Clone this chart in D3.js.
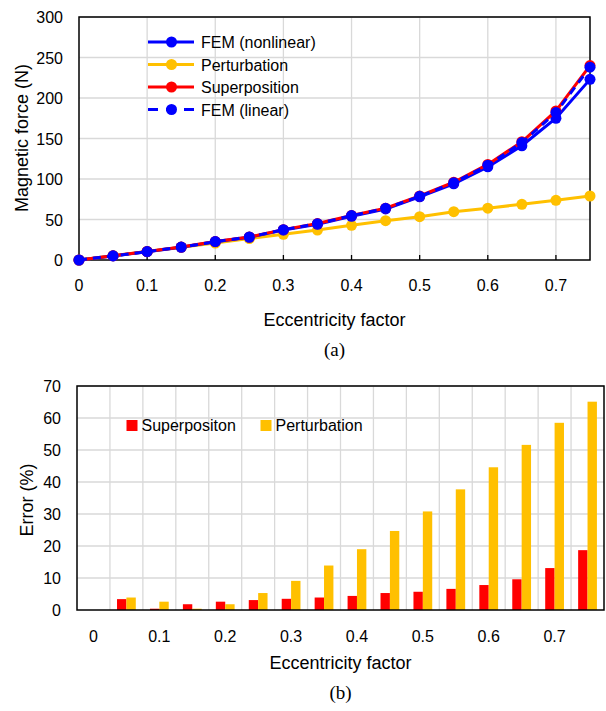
<!DOCTYPE html>
<html><head><meta charset="utf-8">
<script src="https://cdn.jsdelivr.net/npm/d3@7"></script>
<style>body{margin:0;background:#fff}text{font-family:"Liberation Sans",Arial,sans-serif;fill:#000}</style>
</head><body><svg id="c" width="606" height="711"></svg>
<script>
const ecc = [0,0.05,0.1,0.15,0.2,0.25,0.3,0.35,0.4,0.45,0.5,0.55,0.6,0.65,0.7,0.75];
const femNonlinear = [0,5,10.3,15.7,22.6,28,37,44,54,63,78,94,115,141,175,223];
const perturbation = [0,5.3,10.5,15.8,21,26.5,31.7,37,42.8,48.5,53.5,59.7,64,68.8,73.7,79];
const superposition = [0,5.2,10.5,16,22.8,28.5,37.5,45,55,64,79,96,118,146,184,240];
const femLinear = [0,5.1,10.4,15.9,22.7,28.4,37.4,44.8,54.8,63.8,78.6,95.5,117,145,182,238];
const errSuper = [0,3.4,0.4,1.8,2.6,3.1,3.5,3.9,4.4,5.3,5.7,6.6,7.8,9.6,13.1,18.7];
const errPert = [0,3.9,2.6,0.4,1.8,5.3,9.1,13.9,19.0,24.7,30.8,37.7,44.6,51.6,58.5,65.1];
const xTicksA = [0,0.1,0.2,0.3,0.4,0.5,0.6,0.7];
const yTicksA = [0,50,100,150,200,250,300];
const yTicksB = [0,10,20,30,40,50,60,70];
const xLabelsB = ["0","0.1","0.2","0.3","0.4","0.5","0.6","0.7"];

const svg = d3.select("#c");
const BLUE="#0000ff", YEL="#ffc000", RED="#ff0000", GRID="#d9d9d9";

// ---------- Chart (a)
const A = {l:79,r:590,t:17,b:260};
const xa = d3.scaleLinear().domain([0,0.75]).range([A.l,A.r]);
const ya = d3.scaleLinear().domain([0,300]).range([A.b,A.t]);
const ga = svg.append("g");
ga.selectAll(".vg").data(xTicksA.slice(1)).enter().append("line")
  .attr("x1",d=>xa(d)).attr("x2",d=>xa(d)).attr("y1",A.t).attr("y2",A.b)
  .attr("stroke",GRID).attr("stroke-width",1.3);
ga.selectAll(".hg").data(yTicksA.slice(1)).enter().append("line")
  .attr("x1",A.l).attr("x2",A.r).attr("y1",d=>ya(d)).attr("y2",d=>ya(d))
  .attr("stroke",GRID).attr("stroke-width",1.3);
ga.selectAll(".xt").data(xTicksA.slice(1)).enter().append("line")
  .attr("x1",d=>xa(d)).attr("x2",d=>xa(d)).attr("y1",A.b).attr("y2",A.b-5)
  .attr("stroke","#000").attr("stroke-width",1.3);
ga.append("rect").attr("x",A.l).attr("y",A.t).attr("width",A.r-A.l).attr("height",A.b-A.t)
  .attr("fill","none").attr("stroke","#000").attr("stroke-width",1.5);
ga.selectAll(".xl").data(xTicksA).enter().append("text")
  .attr("x",d=>xa(d)).attr("y",A.b+31).attr("text-anchor","middle").attr("font-size",16)
  .text(d=>d3.format("")(d));
ga.selectAll(".yl").data(yTicksA).enter().append("text")
  .attr("x",A.l-16).attr("y",d=>ya(d)+6).attr("text-anchor","end").attr("font-size",16)
  .text(d=>d);
ga.append("text").attr("x",(A.l+A.r)/2).attr("y",326).attr("text-anchor","middle").attr("font-size",18).text("Eccentricity factor");
ga.append("text").attr("transform","translate(28,138) rotate(-90)").attr("text-anchor","middle").attr("font-size",18).text("Magnetic force (N)");
ga.append("text").attr("x",(A.l+A.r)/2).attr("y",356).attr("text-anchor","middle").attr("font-size",19)
  .style("font-family","'Liberation Serif','Times New Roman',serif").text("(a)");

const line = d3.line().x((d,i)=>xa(ecc[i])).y(d=>ya(d));
const series = [
  {v:perturbation,c:YEL,dash:null},
  {v:femNonlinear,c:BLUE,dash:null},
  {v:superposition,c:RED,dash:null},
  {v:femLinear,c:BLUE,dash:"8,6"}
];
series.forEach(s=>{
  ga.append("path").attr("d",line(s.v)).attr("fill","none").attr("stroke",s.c)
    .attr("stroke-width",3).attr("stroke-dasharray",s.dash);
  ga.selectAll(null).data(s.v).enter().append("circle")
    .attr("cx",(d,i)=>xa(ecc[i])).attr("cy",d=>ya(d)).attr("r",5.5).attr("fill",s.c);
});
const legA = [["FEM (nonlinear)",BLUE,null],["Perturbation",YEL,null],["Superposition",RED,null],["FEM (linear)",BLUE,"10,8"]];
legA.forEach((d,i)=>{
  const y = 42 + i*22.5;
  ga.append("line").attr("x1",148).attr("x2",194).attr("y1",y).attr("y2",y)
    .attr("stroke",d[1]).attr("stroke-width",3).attr("stroke-dasharray",d[2]);
  ga.append("circle").attr("cx",171.5).attr("cy",y).attr("r",5.5).attr("fill",d[1]);
  ga.append("text").attr("x",201).attr("y",y+6).attr("font-size",16).text(d[0]);
});

// ---------- Chart (b)
const B = {l:77,r:604,t:386,b:610};
const xb = d3.scaleBand().domain(ecc).range([B.l,B.r]);
const yb = d3.scaleLinear().domain([0,70]).range([B.b,B.t]);
const gb = svg.append("g");
gb.selectAll(".vg").data(ecc.slice(1)).enter().append("line")
  .attr("x1",d=>xb(d)).attr("x2",d=>xb(d)).attr("y1",B.t).attr("y2",B.b)
  .attr("stroke",GRID).attr("stroke-width",1.3);
gb.selectAll(".hg").data(yTicksB.slice(1)).enter().append("line")
  .attr("x1",B.l).attr("x2",B.r).attr("y1",d=>yb(d)).attr("y2",d=>yb(d))
  .attr("stroke",GRID).attr("stroke-width",1.3);
const bw = xb.bandwidth()*0.285;
gb.selectAll(".bs").data(errSuper).enter().append("rect")
  .attr("x",(d,i)=>xb(ecc[i])+xb.bandwidth()/2-bw).attr("width",bw)
  .attr("y",d=>yb(d)).attr("height",d=>B.b-yb(d)).attr("fill",RED);
gb.selectAll(".bp").data(errPert).enter().append("rect")
  .attr("x",(d,i)=>xb(ecc[i])+xb.bandwidth()/2).attr("width",bw)
  .attr("y",d=>yb(d)).attr("height",d=>B.b-yb(d)).attr("fill",YEL);
gb.append("rect").attr("x",B.l).attr("y",B.t).attr("width",B.r-B.l).attr("height",B.b-B.t)
  .attr("fill","none").attr("stroke","#000").attr("stroke-width",1.5);
gb.selectAll(".xl").data(xLabelsB).enter().append("text")
  .attr("x",(d,i)=>xb(ecc[i*2])+xb.bandwidth()/2).attr("y",B.b+32).attr("text-anchor","middle").attr("font-size",16)
  .text(d=>d);
gb.selectAll(".yl").data(yTicksB).enter().append("text")
  .attr("x",B.l-16).attr("y",d=>yb(d)+6).attr("text-anchor","end").attr("font-size",16)
  .text(d=>d);
gb.append("text").attr("x",(B.l+B.r)/2).attr("y",669).attr("text-anchor","middle").attr("font-size",18).text("Eccentricity factor");
gb.append("text").attr("transform","translate(33,500) rotate(-90)").attr("text-anchor","middle").attr("font-size",18).text("Error (%)");
gb.append("text").attr("x",(B.l+B.r)/2).attr("y",699).attr("text-anchor","middle").attr("font-size",19)
  .style("font-family","'Liberation Serif','Times New Roman',serif").text("(b)");
const legB = [["Superpositon",RED,126.5],["Perturbation",YEL,260.5]];
legB.forEach(d=>{
  gb.append("rect").attr("x",d[2]).attr("y",420).attr("width",11).attr("height",11).attr("fill",d[1]);
  gb.append("text").attr("x",d[2]+15).attr("y",431).attr("font-size",16).text(d[0]);
});
</script></body></html>
